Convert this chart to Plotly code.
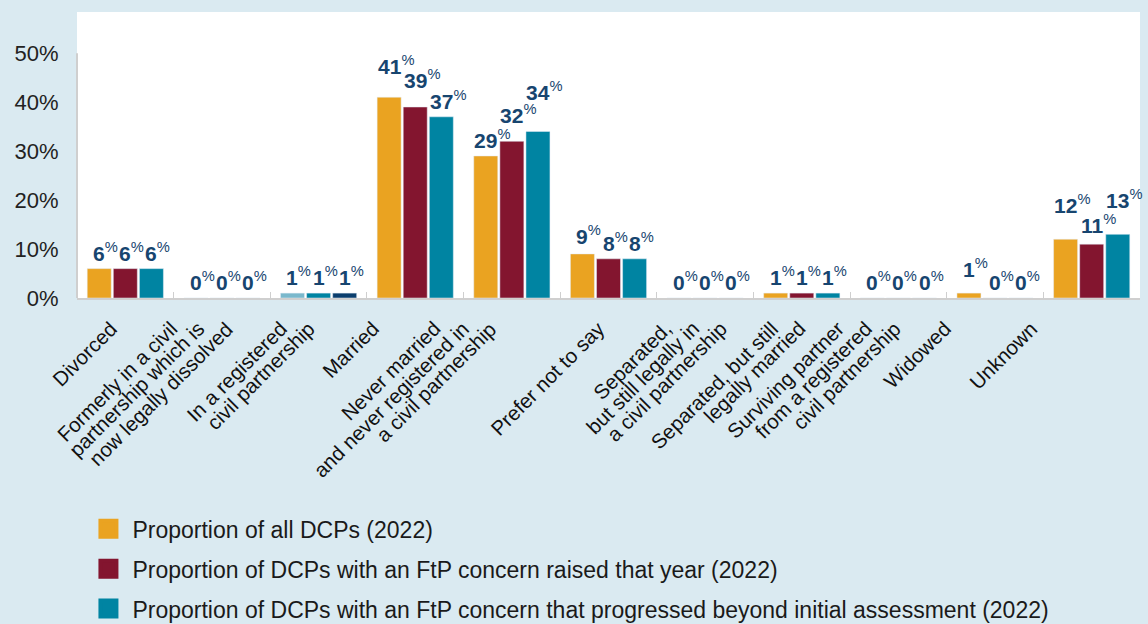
import plotly.graph_objects as go

categories = [
    'Divorced',
    'Formerly in a civil<br>partnership which is<br>now legally dissolved',
    'In a registered<br>civil partnership',
    'Married',
    'Never married<br>and never registered in<br>a civil partnership',
    'Prefer not to say',
    'Separated,<br>but still legally in<br>a civil partnership',
    'Separated, but still<br>legally married',
    'Surviving partner<br>from a registered<br>civil partnership',
    'Widowed',
    'Unknown',
]

all_dcps = [6, 0, 1, 41, 29, 9, 0, 1, 0, 1, 12]
ftp_raised = [6, 0, 1, 39, 32, 8, 0, 1, 0, 0, 11]
ftp_progressed = [6, 0, 1, 37, 34, 8, 0, 1, 0, 0, 13]

series_names = [
    'Proportion of all DCPs (2022)',
    'Proportion of DCPs with an FtP concern raised that year (2022)',
    'Proportion of DCPs with an FtP concern that progressed beyond initial assessment (2022)',
]

y_ticks = [0, 10, 20, 30, 40, 50]

# styling
W, H = 1148, 624
M = dict(l=77, r=8, t=12, b=326)
colors = ['#eaa321', '#83152f', '#0084a2']
# the civil partnership group uses a different palette in the source
cp_colors = ['#7ab8cc', '#0084a2', '#0b3e6d']
label_color = '#17456f'
bg = '#daeaf1'
font = 'Liberation Sans, Arial, sans-serif'
bargap, groupgap = 0.19, 0.08
# nudges for the rotated category labels and the staggered value labels
label_shift = [-1, 18, 3, -29, -8, 3, 29, 11, 9, -37, -48]
line_step = 28
label_lift = [
    [0, 0, 0, 15, 0, 2, 0, 0, 0, 8, 18],
    [0, 0, 0, 11, 10, 0, 0, 0, 0, 0, 3],
    [0, 0, 0, 0, 23, 0, 0, 0, 0, 0, 18],
]

ghost = '<span style="color:rgba(0,0,0,0)"><sup>%</sup></span>'

plot_w = W - M['l'] - M['r']
slot = plot_w / len(categories) * (1 - bargap) / 3

fig = go.Figure()
annotations = []
series = [all_dcps, ftp_raised, ftp_progressed]
for s, (name, vals) in enumerate(zip(series_names, series)):
    cols = [colors[s]] * len(vals)
    cols[2] = cp_colors[s]
    fig.add_trace(go.Bar(
        x=categories, y=vals, name=name, marker_color=cols, showlegend=False,
    ))
    # legend entry with a bigger square
    fig.add_trace(go.Scatter(
        x=[None], y=[None], mode='markers', name=name, legendgroup=f'g{s}',
        marker=dict(symbol='square', size=16, color=colors[s],
                    line=dict(width=4, color=colors[s])),
    ))
    for i, v in enumerate(vals):
        annotations.append(dict(
            x=categories[i], y=v, xref='x', yref='y', showarrow=False,
            text=f'{ghost}<b>{v}</b><sup>%</sup>',
            xanchor='center', yanchor='bottom',
            xshift=(s - 1) * slot, yshift=2 + label_lift[s][i],
            font=dict(size=21, color=label_color, family=font),
        ))

# rotated category labels, one annotation per line so every line
# ends on the same height just under the axis
for i, cat in enumerate(categories):
    lines = cat.split('<br>')
    n = len(lines)
    for k, line in enumerate(lines):
        annotations.append(dict(
            x=cat, y=0, xref='x', yref='y', text=line, showarrow=False,
            textangle=-45, xanchor='right', yanchor='top',
            xshift=label_shift[i] - line_step * (n - 1 - k), yshift=-16,
            font=dict(size=20.5, color='#111111', family=font),
        ))

fig.update_layout(
    width=W, height=H,
    margin=dict(**M, autoexpand=False),
    paper_bgcolor=bg, plot_bgcolor='white',
    barmode='group', bargap=bargap, bargroupgap=groupgap,
    font=dict(family=font, color='#1a1a1a'),
    annotations=annotations,
    shapes=[dict(type='line', xref='paper', yref='y', x0=0, x1=0, y0=0, y1=50,
                 line=dict(color='#cfcfcf', width=2))],
    legend=dict(
        x=0.007, y=-0.732, xanchor='left', yanchor='top',
        bgcolor='rgba(0,0,0,0)',
        font=dict(size=23, color='#1a1a1a', family=font),
        tracegroupgap=7, itemsizing='trace', itemwidth=38,
    ),
)
fig.update_yaxes(
    range=[0, 58.4], tickvals=y_ticks, ticktext=[f'{t}%' for t in y_ticks],
    showgrid=False, zeroline=False, showline=False,
    ticks='outside', ticklen=13, tickcolor='rgba(0,0,0,0)',
    tickfont=dict(size=22, color='#222222'),
)
fig.update_xaxes(
    range=[-0.5, len(categories) - 0.5],
    showticklabels=False, showline=True, linecolor='#cfcfcf', linewidth=2,
    ticks='inside', tickson='boundaries', ticklen=6, tickcolor='#cfcfcf',
    showgrid=False,
)

fig.write_html('out.html', config={'displayModeBar': False},
               post_script="document.body.style.margin='0';")
